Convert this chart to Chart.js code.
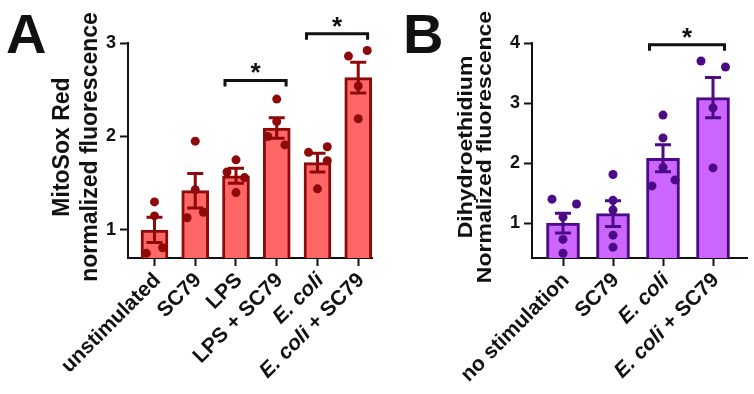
<!DOCTYPE html>
<html>
<head>
<meta charset="utf-8">
<script src="https://cdn.jsdelivr.net/npm/chart.js@4"></script>
<style>
  body { margin: 0; background: #fff; }
  #wrap { position: relative; width: 754px; height: 394px; }
  canvas { position: absolute; top: 0; }
</style>
</head>
<body>
<div id="wrap">
  <canvas id="chartA" width="377" height="394" style="left:0"></canvas>
  <canvas id="chartB" width="377" height="394" style="left:377px"></canvas>
</div>
<script>
'use strict'

// Panel A - MitoSox Red
const labelsA = ['unstimulated', 'SC79', 'LPS', 'LPS + SC79', 'E. coli', 'E. coli + SC79']
const meanA = [1.00, 1.42, 1.58, 2.09, 1.72, 2.63]
const semA = [0.135, 0.185, 0.08, 0.11, 0.10, 0.165]
const pointsA = [
  [1.30, 1.15, 0.81, 0.75],
  [1.95, 1.43, 1.13, 1.19],
  [1.75, 1.62, 1.56, 1.40],
  [2.40, 2.16, 2.00, 1.91],
  [1.83, 1.89, 1.74, 1.44],
  [2.86, 2.92, 2.54, 2.19]
]
// horizontal scatter of the dots, in category units
const jitterA = [
  [0, 0, 0.2, -0.2],
  [0, 0, -0.2, 0.2],
  [0, -0.22, 0.21, 0],
  [0, 0, -0.22, 0.2],
  [-0.22, 0.24, 0.24, 0],
  [-0.24, 0.22, 0, 0]
]
const ticksA = [1, 2, 3]
const sigA = [[2, 3, 2.60], [4, 5, 3.10]]

// Panel B - Dihydroethidium
const labelsB = ['no stimulation', 'SC79', 'E. coli', 'E. coli + SC79']
const meanB = [1.00, 1.16, 2.08, 3.09]
const semB = [0.165, 0.215, 0.225, 0.335]
const pointsB = [
  [1.40, 1.32, 1.10, 0.73, 0.50],
  [1.81, 1.38, 1.22, 0.80, 0.60],
  [2.80, 2.42, 1.93, 1.62, 1.72],
  [3.70, 3.60, 2.92, 1.92]
]
const jitterB = [
  [-0.22, 0.27, 0, 0, 0],
  [0, 0, 0, 0, 0],
  [0, 0, 0, -0.22, 0.24],
  [-0.24, 0.25, 0, 0]
]
const ticksB = [1, 2, 3, 4]
const sigB = [[2, 3, 3.97]]

const FONT = '"Liberation Sans", Arial, sans-serif'

// "E. coli" is set in italics
function labelParts(s) {
  const i = s.indexOf('E. coli')
  if (i < 0) return [[s, false]]
  const out = []
  if (i > 0) out.push([s.slice(0, i), false])
  out.push(['E. coli', true])
  if (i + 7 < s.length) out.push([s.slice(i + 7), false])
  return out
}

function makePanel(id, p) {
  const extras = {
    id: 'extras',
    afterDatasetsDraw(chart) {
      const ctx = chart.ctx
      const xs = chart.scales.x
      const ys = chart.scales.y
      ctx.save()

      // error bars (mean +/- SEM)
      ctx.strokeStyle = p.dark
      ctx.lineWidth = 3
      p.means.forEach((m, i) => {
        const x = xs.getPixelForValue(i)
        const t = ys.getPixelForValue(m + p.sem[i])
        const b = ys.getPixelForValue(m - p.sem[i])
        ctx.beginPath()
        ctx.moveTo(x, t); ctx.lineTo(x, b)
        ctx.moveTo(x - 8, t); ctx.lineTo(x + 8, t)
        ctx.moveTo(x - 8, b); ctx.lineTo(x + 8, b)
        ctx.stroke()
      })

      // significance brackets
      ctx.strokeStyle = '#111'
      ctx.fillStyle = '#111'
      p.sig.forEach(s => {
        const x1 = xs.getPixelForValue(s[0] - 0.27)
        const x2 = xs.getPixelForValue(s[1] + 0.23)
        const y = ys.getPixelForValue(s[2])
        ctx.beginPath()
        ctx.moveTo(x1, y + 6); ctx.lineTo(x1, y); ctx.lineTo(x2, y); ctx.lineTo(x2, y + 6)
        ctx.stroke()
        ctx.font = 'bold 26px ' + FONT
        ctx.textAlign = 'center'
        ctx.textBaseline = 'alphabetic'
        ctx.fillText('*', (x1 + x2) / 2, y + 1)
      })

      // rotated category labels
      const lf = 'bold 21px ' + FONT
      ctx.textAlign = 'left'
      ctx.textBaseline = 'middle'
      p.labels.forEach((lab, i) => {
        const parts = labelParts(lab)
        let w = 0
        parts.forEach(pt => {
          ctx.font = (pt[1] ? 'italic ' : '') + lf
          pt.w = ctx.measureText(pt[0]).width
          w += pt.w
        })
        ctx.save()
        ctx.translate(xs.getPixelForValue(i) + 3, chart.chartArea.bottom + 19)
        ctx.rotate(-Math.PI / 4)
        let x = -w
        parts.forEach(pt => {
          ctx.font = (pt[1] ? 'italic ' : '') + lf
          ctx.fillText(pt[0], x, 0)
          x += pt.w
        })
        ctx.restore()
      })

      // y axis title, two lines
      ctx.textAlign = 'center'
      ctx.textBaseline = 'alphabetic'
      ctx.font = 'bold ' + p.titleSize + 'px ' + FONT
      p.title.forEach((line, k) => {
        ctx.save()
        ctx.translate(p.titleX[k], 147)
        ctx.rotate(-Math.PI / 2)
        ctx.scale(p.titleStretch, 1)
        ctx.fillText(line, 0, 0)
        ctx.restore()
      })

      // panel letter
      ctx.textAlign = 'left'
      ctx.font = 'bold 56px ' + FONT
      ctx.fillText(p.letter, p.letterX, 53)

      ctx.restore()
    }
  }

  const dots = []
  p.points.forEach((arr, i) => arr.forEach((v, k) => dots.push({ x: i + p.jitter[i][k], y: v })))

  return new Chart(document.getElementById(id), {
    type: 'bar',
    data: {
      datasets: [{
        type: 'scatter',
        data: dots,
        order: 0,
        pointRadius: 4.5,
        pointBackgroundColor: p.dark,
        pointBorderWidth: 0,
        clip: false
      }, {
        data: p.means.map((m, i) => ({ x: i, y: m })),
        order: 1,
        backgroundColor: p.fill,
        borderColor: p.dark,
        borderWidth: 3,
        barThickness: p.barW
      }]
    },
    options: {
      responsive: false,
      animation: false,
      events: [],
      layout: { padding: { top: 43, right: p.padRight, bottom: 0, left: 0 } },
      plugins: { legend: { display: false }, tooltip: { enabled: false } },
      scales: {
        x: {
          type: 'linear',
          offset: false,
          min: p.xMin,
          max: p.xMax,
          afterBuildTicks: s => { s.ticks = p.labels.map((l, i) => ({ value: i })) },
          afterFit: s => { s.height = 394 - 258 },
          ticks: { display: false },
          grid: { offset: false, drawOnChartArea: false, tickLength: 8, tickWidth: 2, color: '#111' },
          border: { display: true, width: 2, color: '#111' }
        },
        y: {
          min: p.yMin,
          max: p.yMax,
          afterBuildTicks: s => { s.ticks = p.ticks.map(v => ({ value: v })) },
          afterFit: s => { s.width = p.axisLeft },
          ticks: { color: '#111', padding: 4, font: { family: FONT, size: 18, weight: 'bold' } },
          grid: { drawOnChartArea: false, tickLength: 8, tickWidth: 2, color: '#111' },
          border: { display: true, width: 2, color: '#111' }
        }
      }
    },
    plugins: [extras]
  })
}

makePanel('chartA', {
  labels: labelsA, means: meanA, sem: semA, points: pointsA, jitter: jitterA,
  ticks: ticksA, sig: sigA, yMin: 0.7, yMax: 3, xMin: -0.65, xMax: 5.35,
  fill: '#FF6666', dark: '#8E0A0A', barW: 27,
  axisLeft: 128, padRight: 4,
  title: ['MitoSox Red', 'normalized fluorescence'], titleSize: 23, titleX: [69, 97], titleStretch: 1,
  letter: 'A', letterX: 6
})

makePanel('chartB', {
  labels: labelsB, means: meanB, sem: semB, points: pointsB, jitter: jitterB,
  ticks: ticksB, sig: sigB, yMin: 0.42, yMax: 4, xMin: -0.62, xMax: 3.68,
  fill: '#CC66FF', dark: '#4B0A86', barW: 33,
  axisLeft: 155, padRight: 7,
  title: ['Dihydroethidium', 'Normalized fluorescence'], titleSize: 20, titleX: [95, 114], titleStretch: 1.15,
  letter: 'B', letterX: 26
})
</script>
</body>
</html>
